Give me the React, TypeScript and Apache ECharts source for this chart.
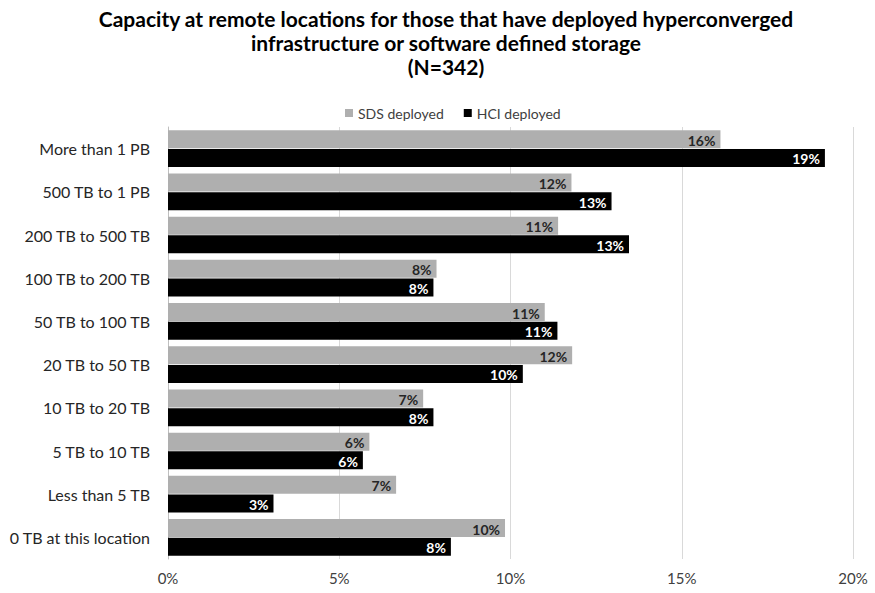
import React, { useEffect, useRef } from "react";
import * as echarts from "echarts";

const categories = [
  "More than 1 PB",
  "500 TB to 1 PB",
  "200 TB to 500 TB",
  "100 TB to 200 TB",
  "50 TB to 100 TB",
  "20 TB to 50 TB",
  "10 TB to 20 TB",
  "5 TB to 10 TB",
  "Less than 5 TB",
  "0 TB at this location",
];
const sdsDeployed = [16.13, 11.78, 11.39, 7.84, 11.0, 11.8, 7.45, 5.88, 6.66, 9.84];
const hciDeployed = [19.18, 12.95, 13.46, 7.75, 11.37, 10.36, 7.75, 5.69, 3.08, 8.26];
const xTicks = { min: 0, max: 20, interval: 5 };

const FONT = "Lato, 'Open Sans', sans-serif";

export default function App() {
  const ref = useRef<HTMLDivElement>(null);
  useEffect(() => {
    if (!ref.current) return;
    const chart = echarts.init(ref.current, null, { renderer: "svg" });
    chart.setOption({
      animation: false,
      textStyle: { fontFamily: FONT },
      title: {
        text: "Capacity at remote locations for those that have deployed hyperconverged\ninfrastructure or software defined storage\n(N=342)",
        left: 441,
        textAlign: "center",
        top: 1,
        textStyle: {
          fontFamily: FONT,
          fontSize: 21,
          fontWeight: "bold",
          color: "#000",
          lineHeight: 24,
        },
      },
      legend: {
        top: 101,
        left: 340,
        itemWidth: 8,
        itemHeight: 8,
        itemGap: 20,
        icon: "rect",
        textStyle: { fontFamily: FONT, fontSize: 14, color: "#404040" },
        data: ["SDS deployed", "HCI deployed"],
      },
      grid: { left: 168, right: 22, top: 127, bottom: 34, containLabel: false },
      xAxis: {
        type: "value",
        min: xTicks.min,
        max: xTicks.max,
        interval: xTicks.interval,
        axisLabel: {
          formatter: "{value}%",
          fontFamily: FONT,
          fontSize: 15,
          color: "#404040",
          margin: 11,
        },
        axisLine: { show: false },
        axisTick: { show: false },
        splitLine: { lineStyle: { color: "#d9d9d9", width: 1 } },
      },
      yAxis: {
        type: "category",
        inverse: true,
        data: categories,
        axisLine: { show: true, lineStyle: { color: "#bfbfbf" } },
        axisTick: { show: false },
        axisLabel: {
          fontFamily: FONT,
          fontSize: 16,
          color: "#262626",
          margin: 18,
        },
      },
      series: [
        {
          name: "SDS deployed",
          type: "bar",
          data: sdsDeployed,
          barWidth: 18,
          barGap: "4%",
          itemStyle: { color: "#afafaf" },
          label: {
            show: true,
            position: "insideRight",
            formatter: (p: any) => Math.round(p.value) + "%",
            fontFamily: FONT,
            fontSize: 14,
            fontWeight: "bold",
            color: "#262626",
            offset: [0, 1],
          },
        },
        {
          name: "HCI deployed",
          type: "bar",
          data: hciDeployed,
          barWidth: 18,
          itemStyle: { color: "#000000" },
          label: {
            show: true,
            position: "insideRight",
            formatter: (p: any) => Math.round(p.value) + "%",
            fontFamily: FONT,
            fontSize: 14,
            fontWeight: "bold",
            color: "#ffffff",
            offset: [0, 1],
          },
        },
      ],
    });
    return () => chart.dispose();
  }, []);
  return <div ref={ref} style={{ width: 875, height: 593, position: "absolute", left: 0, top: 0 }} />;
}
